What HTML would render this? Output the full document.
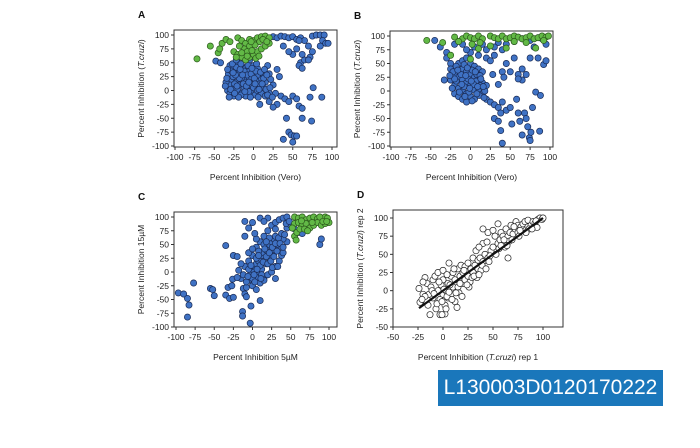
<!DOCTYPE html>
<html><head><meta charset="utf-8"><style>
body{margin:0;background:#fff;width:700px;height:448px;overflow:hidden;font-family:"Liberation Sans",sans-serif}
svg{position:absolute;left:0;top:0}
#tag{position:absolute;left:438px;top:370px;width:225px;height:36px;background:#1a77bb;color:#fff;font-size:21px;line-height:36px;text-align:center;font-family:"Liberation Sans",sans-serif}
</style></head><body>
<svg id="chart" width="700" height="448"></svg>
<div id="tag">L130003D0120170222</div>
<script>
// Panel A: Vero vs T.cruzi
const aBlue="-30,45;-25,40;-20,35;-15,30;-10,25;-5,20;0,15;5,10;10,5;-28,20;-22,15;-18,10;-12,5;-8,0;-3,-5;2,-8;-32,30;-26,25;-20,50;-15,45;-10,40;-5,35;0,30;5,25;10,20;15,15;-30,10;-25,5;-20,0;-15,-5;-10,-10;-5,35;0,45;5,40;-35,15;-33,0;-30,-5;-25,-10;-20,30;-15,20;-10,15;-5,10;0,5;5,0;10,-5;15,-10;20,-5;-12,35;-8,28;-2,22;3,18;8,12;12,8;-22,42;-18,22;-28,35;-24,12;-16,-8;-6,-2;20,30;25,10;18,45;30,38;33,25;12,30;22,20;28,-5;35,-10;40,-15;45,-20;50,-10;55,-15;30,-25;25,-30;8,-25;20,-20;42,-50;58,-28;62,-32;62,-50;74,-55;38,-88;45,-75;48,-80;52,-82;55,-82;50,-93;72,-12;76,5;87,-12;-48,53;-42,50;25,97;30,95;35,98;40,97;45,95;50,97;55,92;60,95;65,90;70,80;75,98;80,100;85,100;90,100;88,90;92,85;95,85;85,80;75,70;72,60;60,50;58,45;62,40;65,55;70,55;62,65;55,75;50,65;45,70;58,90;38,80;-5,55;-33,38;-27,48;-23,28;-17,38;-13,12;-7,45;-3,30;3,35;7,2;13,22;-34,22;-29,2;-21,8;-19,-12;-11,-2;-4,-12;1,22;6,-12;11,12;16,2;-26,32;-16,48;-9,8;4,48;9,33;14,38;18,-8;-31,-12;-2,40;-24,-5;-14,28;-6,15;2,12;17,28;21,5;24,-12;-36,8;-22,55";
const aGreen="-72,57;-55,80;-45,68;-43,75;-40,85;-35,92;-30,88;-20,95;-15,90;-10,85;-5,80;0,90;5,95;10,97;15,98;20,95;-25,70;-20,65;-15,60;-10,55;-5,60;0,65;5,70;10,75;15,80;20,85;-12,75;-8,70;-2,72;2,82;8,88;12,92;-18,80;-5,92;-22,60;-8,62;3,58;-15,68;7,62;-3,88;17,88";
// Panel B
const bBlue="-45,92;-38,80;-30,70;-30,60;-25,50;-25,40;-20,30;-15,25;-10,20;-5,15;0,10;5,5;10,0;15,-5;-20,10;-15,5;-10,0;-5,-5;0,-10;5,-15;-25,20;-20,-5;-15,-10;-10,-15;-5,-20;-10,40;-5,35;0,30;5,25;10,20;15,15;20,10;-15,50;-10,55;-5,60;0,50;5,45;10,40;15,35;0,70;-5,75;5,80;10,65;-20,85;15,85;20,60;25,55;30,65;-33,20;-18,45;-8,48;2,38;8,30;12,10;18,0;20,-15;25,-20;30,-25;35,-30;38,-40;40,-20;45,-35;30,-50;35,-55;38,-72;40,-95;50,-30;52,-60;58,-15;60,-40;62,-55;65,-80;68,-40;70,-50;72,-65;74,-85;75,-90;76,-75;78,-30;82,-2;88,-8;87,-73;28,30;40,35;45,50;55,60;60,30;65,40;70,30;75,60;85,60;92,48;95,55;35,12;42,25;50,35;65,20;60,22;35,88;45,85;55,90;65,95;75,92;85,97;90,95;95,85;80,80;30,80;40,75;20,75;-10,85;-22,35;-18,18;-12,30;-8,8;-3,22;3,2;7,18;12,28;-14,-2;-6,28;-2,-2;4,12;9,8;-20,22;-16,38;-11,12;-4,42;1,18;6,35;11,-8;16,8;-23,5;-7,-10;2,-18;13,22;17,-12;-26,28;-1,5;8,-5";
const bGreen="-55,92;-35,88;-25,65;-20,98;-10,95;-5,100;0,97;5,95;10,100;15,95;25,100;30,97;35,95;40,100;45,95;50,97;55,100;60,98;65,95;70,97;75,100;80,95;85,97;90,100;95,98;98,100;-15,90;2,85;12,88;25,82;55,90;70,88;82,78;92,92;0,58;10,77;45,78";
// Panel C: 5µM vs 15µM
const cBlue="-97,-38;-90,-40;-85,-48;-83,-60;-85,-82;-77,-20;-55,-30;-52,-32;-50,-43;-35,-42;-32,-28;-30,-48;-25,-46;-27,-25;-26,-13;-25,30;-35,48;-20,28;-18,3;-15,-12;-12,-30;-10,-40;-8,-45;-13,-72;-13,-80;-8,-28;-5,-15;-3,-5;0,5;3,10;5,15;8,20;10,25;12,30;15,35;18,40;20,45;22,50;25,55;28,60;30,65;-10,10;-5,20;0,-25;5,-32;10,-20;15,-10;20,-5;25,0;30,10;35,20;38,30;40,35;-2,-62;-3,-93;10,-52;0,30;5,45;10,55;15,65;20,75;25,85;30,90;35,95;40,98;45,100;-10,92;-5,80;-10,65;0,90;5,60;3,70;20,98;10,98;15,92;45,55;40,60;35,45;28,35;22,25;18,15;12,5;8,-5;5,-10;2,0;-5,5;-12,-5;-15,15;-20,-10;-5,35;0,42;8,38;15,50;25,40;32,50;45,80;50,85;55,78;60,72;65,70;88,50;90,60;30,-12;15,-15;-8,-18;0,-12;5,25;10,12;14,18;18,28;22,35;26,45;30,52;34,62;38,70;2,-5;6,5;12,-5;20,15;24,20;28,28;32,38;36,52;42,68;16,42;8,30;-2,12;-6,-8;3,-18;11,-12;26,8;33,10;40,45;44,88;48,92;30,78;22,62;18,55";
const cGreen="55,100;60,98;65,100;70,95;75,98;80,100;85,97;90,95;95,100;98,98;55,88;60,90;65,85;70,88;75,80;80,85;85,90;90,85;95,88;100,90;55,65;57,58;58,72;62,78;68,78;72,75;78,90;88,100;92,92;97,92;52,80;64,93";
// Panel D: rep1 vs rep2 (open circles)
const dPts="-24,3;-22,-15;-20,-5;-18,18;-16,10;-15,-20;-13,-33;-12,5;-10,15;-10,-10;-8,20;-7,-25;-5,0;-5,25;-3,-12;-2,8;0,-5;0,15;0,28;2,-20;2,-32;3,0;5,10;5,-10;6,38;8,20;8,-5;10,5;10,25;12,-15;12,15;14,-23;15,30;15,5;17,20;18,35;20,10;20,25;22,15;22,33;25,20;25,38;27,12;28,30;30,25;30,45;32,35;33,55;35,30;35,42;37,45;38,28;40,40;40,65;40,85;42,50;44,67;45,45;45,80;48,55;50,60;50,83;52,75;55,65;55,92;57,70;58,80;60,75;62,60;63,85;65,45;65,75;67,80;68,90;70,78;72,85;73,95;75,80;75,90;78,88;80,92;82,95;85,88;85,97;88,90;90,95;92,93;94,87;95,98;97,100;99,98;100,100;-20,12;-14,-5;-6,-18;4,-8;16,-3;26,5;34,18;36,60;46,40;56,58;66,68;76,75;86,85;-18,-8;-11,0;-4,12;-1,-15;4,22;7,8;9,-12;11,30;13,-3;17,10;19,-8;21,28;24,8;29,18;31,20;36,22;39,35;43,30;47,48;53,50;58,62;61,70;64,62;69,70;71,88;77,83;83,80;89,85;93,96;-9,-4;1,2;6,-2;3,-25;-3,-33;-1,-33;-23,-16;-21,-12";
const dLineX=[-24,100];

const NS="http://www.w3.org/2000/svg";
const svg=document.getElementById('chart');
function mk(t,a,p){const e=document.createElementNS(NS,t);for(const k in a)e.setAttribute(k,a[k]);(p||svg).appendChild(e);return e;}
function parse(s){return s.split(';').map(p=>p.split(',').map(Number));}

function panel(cfg){
  const g=mk('g',{});
  
  
  const sx=v=>cfg.x0+(v-cfg.xmin)/(cfg.xmax-cfg.xmin)*(cfg.x1-cfg.x0);
  const sy=v=>cfg.y0-(v-cfg.ymin)/(cfg.ymax-cfg.ymin)*(cfg.y0-cfg.y1);
  const fr=mk('rect',{x:cfg.fl,y:cfg.ft,width:cfg.fr-cfg.fl,height:cfg.fb-cfg.ft,fill:'none',stroke:'#333','stroke-width':1},g);
  
  
  cfg.xticks.forEach(v=>{
    mk('line',{x1:sx(v),x2:sx(v),y1:cfg.fb,y2:cfg.fb+3,stroke:'#333'},g);
    const t=mk('text',{x:sx(v),y:cfg.fb+13,'font-size':8.5,'text-anchor':'middle',fill:'#222'},g);
    t.textContent=v;
    
    
  });
  cfg.yticks.forEach(v=>{
    mk('line',{x1:cfg.fl-3,x2:cfg.fl,y1:sy(v),y2:sy(v),stroke:'#333'},g);
    const t=mk('text',{x:cfg.fl-5,y:sy(v)+3,'font-size':8.5,'text-anchor':'end',fill:'#222'},g);
    t.textContent=v;
    
    
  });
  const lt=mk('text',{x:cfg.fl-36,y:cfg.ft-12,'font-size':10,'font-weight':'bold',fill:'#111'},g);
  lt.textContent=cfg.label;
  
  
  const xt=mk('text',{x:(cfg.fl+cfg.fr)/2,y:cfg.fb+33,'font-size':8.5,'text-anchor':'middle',fill:'#222'},g);
  xt.innerHTML=cfg.xtitle;
  
  
  const cy=(cfg.ft+cfg.fb)/2, cx=cfg.fl-30;
  const yt=mk('text',{x:cx,y:cy,'font-size':8.5,'text-anchor':'middle',fill:'#222',transform:`rotate(-90 ${cx} ${cy})`},g);
  yt.innerHTML=cfg.ytitle;
  
  
  cfg.series.forEach(s=>{
    parse(s.data).forEach(([x,y])=>{
      const c=mk('circle',{cx:sx(x),cy:sy(y),r:3.1,fill:s.fill,stroke:s.stroke,'stroke-width':0.7},g);
      
      
    });
  });
  if(cfg.fit){
    const l=mk('line',{x1:sx(dLineX[0]),y1:sy(dLineX[0]),x2:sx(dLineX[1]),y2:sy(dLineX[1]),stroke:'#111','stroke-width':2.2},g);
    
    
  }
}
const T=[-100,-75,-50,-25,0,25,50,75,100];
const blue={fill:'#3f72c4',stroke:'#1a2b55'}, green={fill:'#62b946',stroke:'#2c5a1c'};
panel({name:'panel-a',label:'A',fl:174,fr:337,ft:30,fb:147,x0:175,x1:332,xmin:-100,xmax:100,y0:146,y1:35,ymin:-100,ymax:100,xticks:T,yticks:T,
  xtitle:'Percent Inhibition (Vero)',ytitle:'Percent Inhibition (<tspan font-style="italic">T.cruzi</tspan>)',
  series:[{data:aBlue,name:'point-blue',...blue},{data:aGreen,name:'point-green',...green}]});
panel({name:'panel-b',label:'B',fl:390,fr:553,ft:31,fb:147,x0:391,x1:550,xmin:-100,xmax:100,y0:146,y1:36,ymin:-100,ymax:100,xticks:T,yticks:T,
  xtitle:'Percent Inhibition (Vero)',ytitle:'Percent Inhibition (<tspan font-style="italic">T.cruzi</tspan>)',
  series:[{data:bBlue,name:'point-blue',...blue},{data:bGreen,name:'point-green',...green}]});
panel({name:'panel-c',label:'C',fl:174,fr:337,ft:212,fb:327,x0:176,x1:329,xmin:-100,xmax:100,y0:327,y1:217,ymin:-100,ymax:100,xticks:T,yticks:T,
  xtitle:'Percent Inhibition 5µM',ytitle:'Percent Inhibition 15µM',
  series:[{data:cBlue,name:'point-blue',...blue},{data:cGreen,name:'point-green',...green}]});
panel({name:'panel-d',label:'D',fl:393,fr:563,ft:210,fb:327,x0:393,x1:543,xmin:-50,xmax:100,y0:327,y1:218,ymin:-50,ymax:100,xticks:[-50,-25,0,25,50,75,100],yticks:[-50,-25,0,25,50,75,100],
  xtitle:'Percent Inhibition (<tspan font-style="italic">T.cruzi</tspan>) rep 1',ytitle:'Percent Inhibition (<tspan font-style="italic">T.cruzi</tspan>) rep 2',
  series:[{data:dPts,name:'point-open',fill:'#fff',stroke:'#222'}],fit:true});
</script>
</body></html>
